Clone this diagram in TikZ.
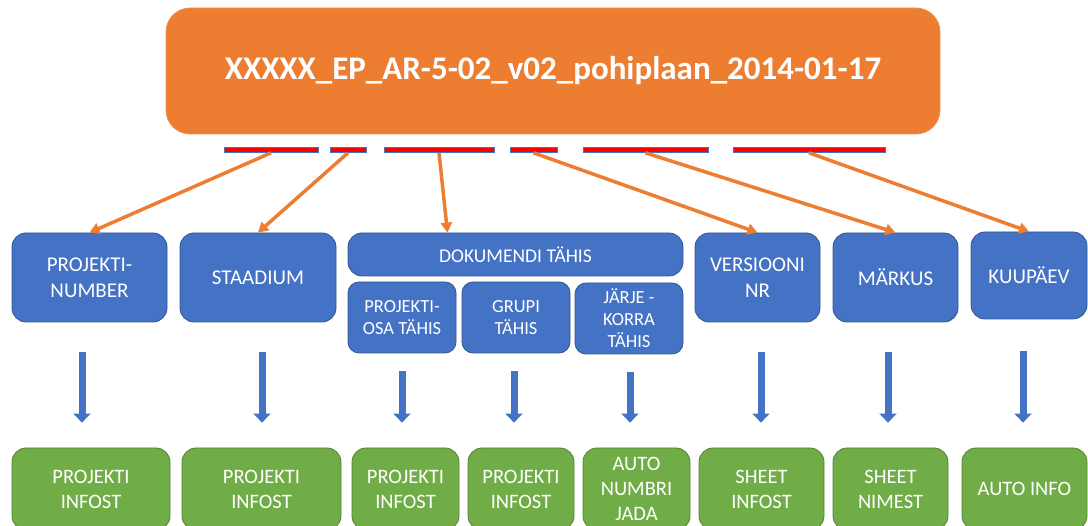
\documentclass[tikz,border=0pt]{standalone}
\usepackage{fontspec}
\setmainfont{Carlito}
\usetikzlibrary{arrows.meta}
\definecolor{plorange}{HTML}{ED7D31}
\definecolor{plblue}{HTML}{4472C4}
\definecolor{plgreen}{HTML}{70AD47}
\tikzset{
  box/.style={rounded corners=14pt, text=white, align=center, inner sep=2pt, line width=0.8pt},
  titlebox/.style={box, rounded corners=24pt, fill=plorange, draw=plorange!85!white,
    font=\fontsize{33}{38}\selectfont\bfseries},
  fieldbox/.style={box, fill=plblue, draw=plblue!75!black, font=\fontsize{21}{26}\selectfont},
  subbox/.style={box, rounded corners=11pt, fill=plblue, draw=plblue!75!black,
    font=\fontsize{18.5}{22}\selectfont},
  resultbox/.style={box, fill=plgreen, draw=plgreen!75!black, font=\fontsize{20.5}{25}\selectfont},
  bar/.style={fill=red, draw=plblue, line width=0.7pt, minimum height=5pt, inner sep=0pt},
  feed/.style={plorange, line width=3.5pt, -{Triangle[length=10pt,width=11pt]}},
  down/.style={plblue, line width=7pt, -{Triangle[length=9pt,width=17pt]}},
}
\begin{document}
\begin{tikzpicture}[x=1pt,y=-1pt]
    \clip (0,0) rectangle (1088,526);

    % failinimi
    \node[titlebox, minimum width=774pt, minimum height=126pt] (title) at (553,71)
        {XXXXX\_EP\_AR-5-02\_v02\_pohiplaan\_2014-01-17};

    % nimeosad
    \node[bar, minimum width=94pt] (bar1) at (271,150) {};
    \node[bar, minimum width=36pt] (bar2) at (348,150) {};
    \node[bar, minimum width=110pt] (bar3) at (439,150) {};
    \node[bar, minimum width=47pt] (bar4) at (533.5,150) {};
    \node[bar, minimum width=125pt] (bar5) at (645.5,150) {};
    \node[bar, minimum width=152pt] (bar6) at (809,150) {};

    % väljad
    \node[fieldbox, minimum width=155pt, minimum height=89pt] (num) at (89.5,277.5) {PROJEKTI-\\NUMBER};
    \node[fieldbox, minimum width=156pt, minimum height=89pt] (stage) at (258,277.5) {STAADIUM};
    \node[fieldbox, minimum width=335pt, minimum height=43pt, font=\fontsize{19.5}{24}\selectfont] (doc) at (515.5,254.5) {DOKUMENDI TÄHIS};
    \node[subbox, minimum width=108pt, minimum height=71pt] (sub1) at (402,317.5) {PROJEKTI-\\OSA TÄHIS};
    \node[subbox, minimum width=108pt, minimum height=71pt] (sub2) at (516,317.5) {GRUPI\\TÄHIS};
    \node[subbox, minimum width=108pt, minimum height=71pt] (sub3) at (629,318.5) {JÄRJE -\\KORRA\\TÄHIS};
    \node[fieldbox, minimum width=125pt, minimum height=89pt] (ver) at (757.5,277.5) {VERSIOONI\\NR};
    \node[fieldbox, minimum width=125pt, minimum height=89pt] (note) at (895.5,277.5) {MÄRKUS};
    \node[fieldbox, minimum width=116pt, minimum height=87pt] (date) at (1029,275.5) {KUUPÄEV};

    % allikad
    \node[resultbox, minimum width=158pt, minimum height=82pt] (res1) at (91,489) {PROJEKTI\\INFOST};
    \node[resultbox, minimum width=159pt, minimum height=82pt] (res2) at (261.5,489) {PROJEKTI\\INFOST};
    \node[resultbox, minimum width=107pt, minimum height=82pt] (res3) at (405.5,489) {PROJEKTI\\INFOST};
    \node[resultbox, minimum width=106pt, minimum height=82pt] (res4) at (521,489) {PROJEKTI\\INFOST};
    \node[resultbox, minimum width=107pt, minimum height=82pt] (res5) at (636.5,489) {AUTO\\NUMBRI\\JADA};
    \node[resultbox, minimum width=125pt, minimum height=82pt] (res6) at (761.5,489) {SHEET\\INFOST};
    \node[resultbox, minimum width=115pt, minimum height=82pt] (res7) at (890.5,489) {SHEET\\NIMEST};
    \node[resultbox, minimum width=125pt, minimum height=82pt] (res8) at (1024.5,489) {AUTO INFO};

    % nooled
    \foreach \b/\t in {bar1/num, bar2/stage, bar4/ver, bar5/note, bar6/date}
        \draw[feed] (\b.south) -- (\t.north);
    \draw[feed] (bar3.south) -- ([xshift=-68pt]doc.north);

    \foreach \s/\t/\dx/\gap in {num/res1/-7.5/30, stage/res2/4/30, sub1/res3/0/18, sub2/res4/-2/18,
        sub3/res5/1/18, ver/res6/3.5/30, note/res7/-7.5/30, date/res8/-6/32}
        \draw[down, shorten <=\gap pt, shorten >=25pt] ([xshift=\dx pt]\s.south) -- ([xshift=\dx pt]\s.south |- \t.north);

\end{tikzpicture}
\end{document}
